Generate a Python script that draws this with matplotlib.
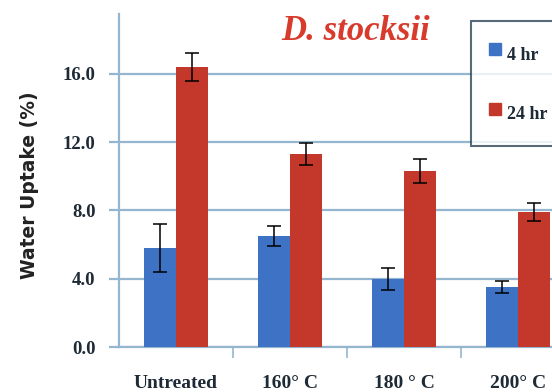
import matplotlib
matplotlib.use("Agg")
import matplotlib.pyplot as plt
from matplotlib.lines import Line2D
import numpy as np

# water uptake after 4 hr and 24 hr soaking
treatments = ["Untreated", "160° C", "180 ° C", "200° C"]
uptake_4hr = [5.8, 6.5, 4.0, 3.5]
err_4hr = [1.4, 0.6, 0.65, 0.35]
uptake_24hr = [16.4, 11.3, 10.3, 7.9]
err_24hr = [0.8, 0.65, 0.7, 0.55]
yticks = [0.0, 4.0, 8.0, 12.0, 16.0]

blue = "#3D72C4"
red = "#C4382C"
grid_col = "#94B6CE"
text_col = "#1E2A36"
serif = ["Liberation Serif", "DejaVu Serif"]

fig = plt.figure(figsize=(5.52, 3.92), dpi=100)
# the plot area runs past the right edge of the figure
ax = fig.add_axes([119 / 552, 1 - 347 / 392, 456 / 552, (347 - 14) / 392])

x = np.arange(len(treatments))
w = 0.28
ebar = dict(ecolor="black", elinewidth=1.1, capsize=5, capthick=1.1)
ax.bar(x - w / 2, uptake_4hr, w, color=blue, zorder=3, yerr=err_4hr, error_kw=ebar)
ax.bar(x + w / 2, uptake_24hr, w, color=red, zorder=3, yerr=err_24hr, error_kw=ebar)

ax.set_xlim(-0.5, 3.5)
ax.set_ylim(0, 19.5)
ax.set_yticks(yticks)
ax.set_yticklabels([f"{v:.1f}" for v in yticks], family=serif, fontweight="bold",
                   fontsize=13.5, color=text_col)
ax.yaxis.grid(True, color=grid_col, linewidth=1.6, zorder=0)
ax.set_axisbelow(True)

ax.set_xticks(x)
ax.set_xticklabels(treatments, family=serif, fontweight="bold", fontsize=14, color=text_col)
ax.set_xticks(x[:-1] + 0.5, minor=True)
ax.tick_params(axis="x", which="major", length=0, pad=20)
ax.tick_params(axis="x", which="minor", length=8, color=grid_col, width=1.2)
ax.tick_params(axis="y", length=7, color=grid_col, width=1.6, pad=10)

for side in ["top", "right"]:
    ax.spines[side].set_visible(False)
for side in ["left", "bottom"]:
    ax.spines[side].set_color(grid_col)
    ax.spines[side].set_linewidth(1.6)

ax.set_ylabel("Water Uptake (%)", fontweight="bold", fontsize=13.5, color="#222222")
ax.yaxis.set_label_coords(-0.175, 0.486)

fig.text(356 / 552, 1 - 31 / 392, "D. stocksii", family=serif, style="italic",
         fontweight="bold", fontsize=25, color="#D83A2C", ha="center", va="center")

handles = [Line2D([], [], linestyle="none", marker="s", markersize=8, color=c)
           for c in (blue, red)]
leg = fig.legend(handles, ["4 hr", "24 hr"], loc="upper left",
                 bbox_to_anchor=(471 / 552, 1 - 21 / 392), frameon=True, fancybox=False,
                 labelspacing=1.6, handlelength=0.7, handleheight=2.2, handletextpad=0.3,
                 borderpad=1.0, borderaxespad=0,
                 prop=dict(family=serif, weight="bold", size=13))
leg.get_frame().set_edgecolor("#2E4358")
leg.get_frame().set_linewidth(1.5)
for t in leg.get_texts():
    t.set_color(text_col)

fig.savefig("out.png", dpi=100)
